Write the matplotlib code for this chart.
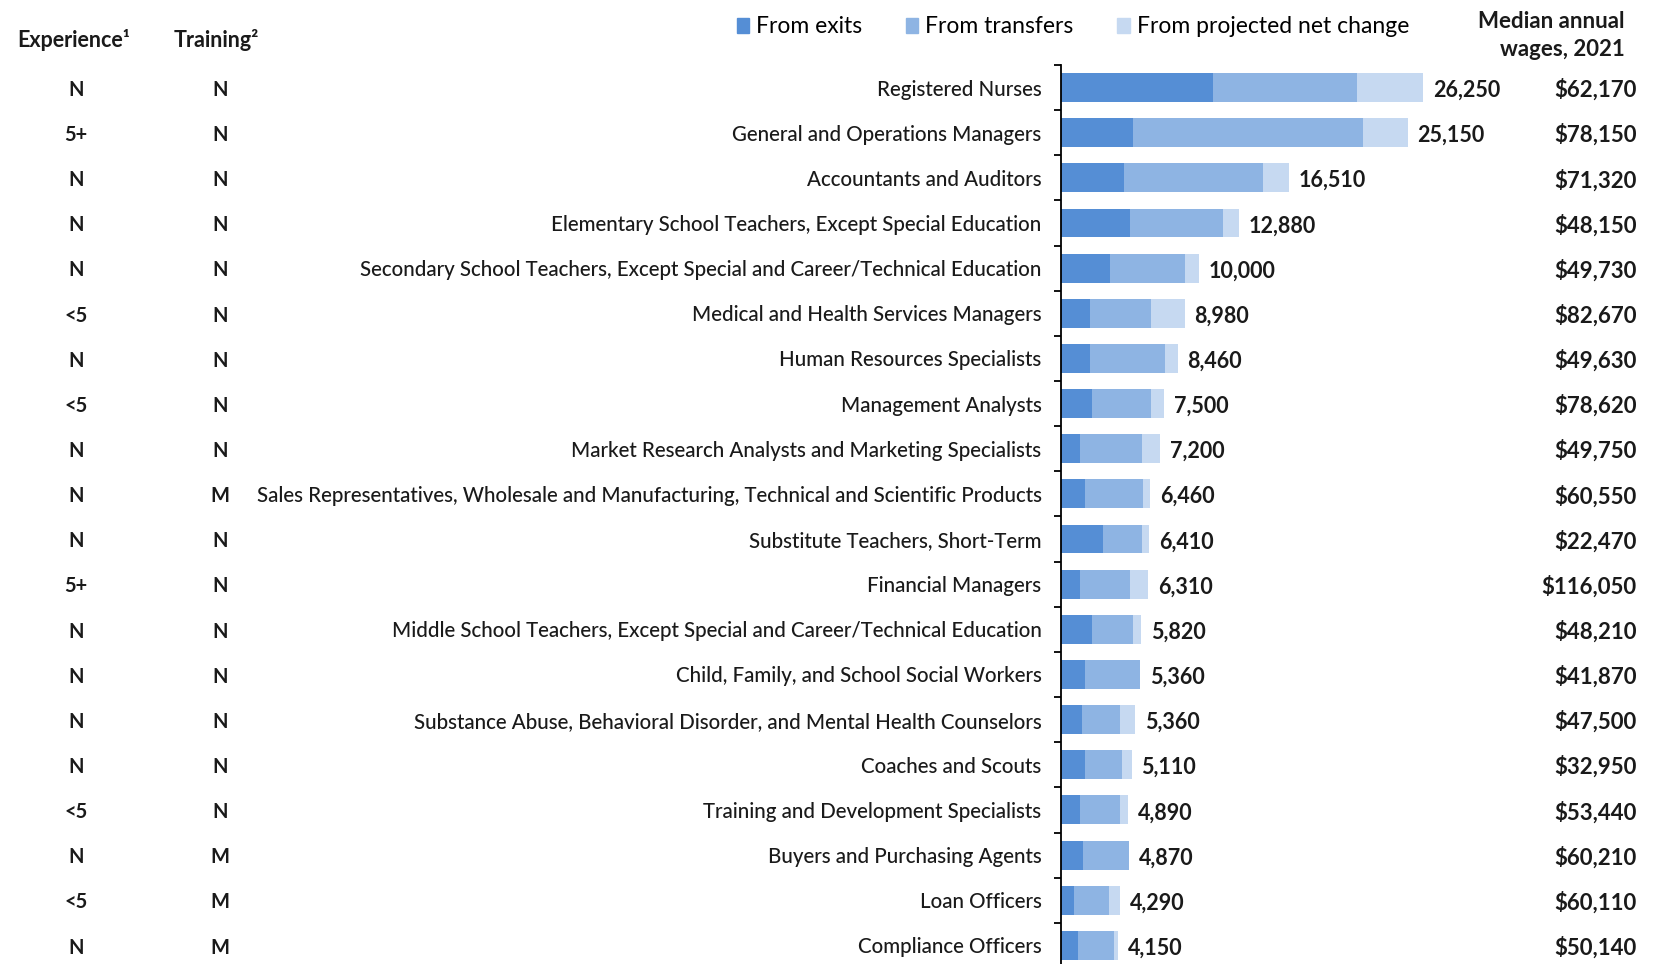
import numpy as np
import matplotlib.pyplot as plt
from matplotlib.patches import Patch
from matplotlib.transforms import blended_transform_factory

plt.rcParams['font.family'] = ['Lato', 'DejaVu Sans']

# occupations, top to bottom
occupations = [
    "Registered Nurses",
    "General and Operations Managers",
    "Accountants and Auditors",
    "Elementary School Teachers, Except Special Education",
    "Secondary School Teachers, Except Special and Career/Technical Education",
    "Medical and Health Services Managers",
    "Human Resources Specialists",
    "Management Analysts",
    "Market Research Analysts and Marketing Specialists",
    "Sales Representatives, Wholesale and Manufacturing, Technical and Scientific Products",
    "Substitute Teachers, Short-Term",
    "Financial Managers",
    "Middle School Teachers, Except Special and Career/Technical Education",
    "Child, Family, and School Social Workers",
    "Substance Abuse, Behavioral Disorder, and Mental Health Counselors",
    "Coaches and Scouts",
    "Training and Development Specialists",
    "Buyers and Purchasing Agents",
    "Loan Officers",
    "Compliance Officers",
]

# openings split
from_exits = [11030, 5220, 4570, 5000, 3550, 2100, 2100, 2250, 1380, 1740,
              3050, 1380, 2250, 1740, 1520, 1740, 1380, 1600, 940, 1230]
from_transfers = [10450, 16680, 10080, 6740, 5440, 4420, 5420, 4280, 4500, 4180,
                  2840, 3600, 3000, 3990, 2760, 2690, 2900, 3340, 2540, 2610]
from_net_change = [4770, 3250, 1860, 1140, 1010, 2460, 940, 970, 1320, 540,
                   520, 1330, 570, 0, 1080, 680, 610, 0, 810, 310]
totals = [26250, 25150, 16510, 12880, 10000, 8980, 8460, 7500, 7200, 6460,
          6410, 6310, 5820, 5360, 5360, 5110, 4890, 4870, 4290, 4150]

experience = ["N", "5+", "N", "N", "N", "<5", "N", "<5", "N", "N",
              "N", "5+", "N", "N", "N", "N", "<5", "N", "<5", "N"]
training = ["N", "N", "N", "N", "N", "N", "N", "N", "N", "M",
            "N", "N", "N", "N", "N", "N", "N", "M", "M", "M"]
wages = [62170, 78150, 71320, 48150, 49730, 82670, 49630, 78620, 49750, 60550,
         22470, 116050, 48210, 41870, 47500, 32950, 53440, 60210, 60110, 50140]

C_EXITS = "#558ed5"
C_TRANSFERS = "#8eb4e3"
C_NET = "#c6d9f1"
TXT = "#1a1a1a"

fig = plt.figure(figsize=(16.53, 9.64), dpi=100)
ax = fig.add_axes([0.6419, -0.0041, 0.3581, 0.9367])

y = np.arange(len(occupations))
exits = np.array(from_exits)
transfers = np.array(from_transfers)
net = np.array(from_net_change)

h = 0.64
ax.barh(y, exits, height=h, color=C_EXITS)
ax.barh(y, transfers, left=exits, height=h, color=C_TRANSFERS)
ax.barh(y, net, left=exits + transfers, height=h, color=C_NET)

ax.set_xlim(0, 42930)
ax.set_ylim(len(occupations) - 0.5, -0.5)

# total labels at the end of each bar
ends = exits + transfers + net
for yi, end, tot in zip(y, ends, totals):
    ax.annotate(f"{tot:,}", (end, yi), xytext=(7, -2), textcoords="offset points",
                ha="left", va="center", fontsize=15.5, fontweight="bold", color=TXT)

# axis look: only left spine, ticks between categories
for s in ["top", "right", "bottom"]:
    ax.spines[s].set_visible(False)
ax.spines["left"].set_linewidth(1.3)
ax.set_xticks([])
ax.set_yticks(y)
ax.set_yticklabels(occupations, fontsize=14.8, fontweight=500, color=TXT)
ax.tick_params(axis="y", which="major", length=0, pad=14)
ax.set_yticks(np.arange(-0.5, len(occupations) + 0.5, 1), minor=True)
ax.tick_params(axis="y", which="minor", length=5, width=1.3, direction="out")

# left-hand columns and wage column
blend = blended_transform_factory(fig.transFigure, ax.transData)
for yi, ex, tr, wg in zip(y, experience, training, wages):
    fig.text(0.046, yi + 0.05, ex, transform=blend, ha="center", va="center",
             fontsize=14.5, fontweight="bold", color=TXT)
    fig.text(0.133, yi + 0.05, tr, transform=blend, ha="center", va="center",
             fontsize=14.5, fontweight="bold", color=TXT)
    fig.text(0.990, yi + 0.05, f"${wg:,}", transform=blend, ha="right", va="center",
             fontsize=16, fontweight="bold", color=TXT)

# headers
fig.text(0.0445, 0.958, "Experience\u00b9", ha="center", va="center",
         fontsize=15.5, fontweight="bold", color=TXT)
fig.text(0.131, 0.958, "Training\u00b2", ha="center", va="center",
         fontsize=15.5, fontweight="bold", color=TXT)
fig.text(0.983, 0.963, "Median annual\nwages, 2021", ha="right", va="center",
         multialignment="right", fontsize=16, fontweight="bold", color=TXT,
         linespacing=1.45)

handles = [Patch(color=C_EXITS), Patch(color=C_TRANSFERS), Patch(color=C_NET)]
fig.legend(handles, ["From exits", "From transfers", "From projected net change"],
           loc="center", bbox_to_anchor=(0.649, 0.972), ncol=3, frameon=False,
           fontsize=16.5, handlelength=0.55, handleheight=0.6, handletextpad=0.3,
           columnspacing=1.9)

fig.savefig("out.png", dpi=100)
